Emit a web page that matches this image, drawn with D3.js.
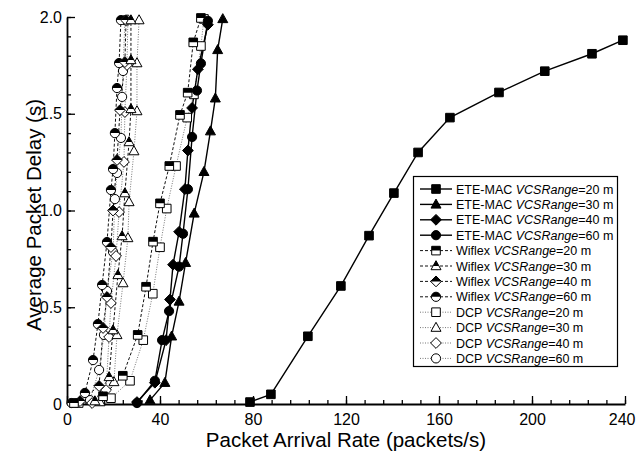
<!DOCTYPE html>
<html>
<head>
<meta charset="utf-8">
<script src="https://cdn.jsdelivr.net/npm/d3@7/dist/d3.min.js"></script>
<style>
  html, body { margin: 0; padding: 0; background: #fff; }
  svg { display: block; font-family: "Liberation Sans", Arial, sans-serif; }
</style>
</head>
<body>
<svg id="chart" width="636" height="452"></svg>
<script>
// Average packet delay vs. packet arrival rate, [rate (packets/s), delay (s)]
const eteMac20 = [[78.7,0.01],[87.7,0.05],[103.6,0.35],[117.8,0.61],[129.9,0.87],[140.6,1.09],[151,1.30],[164.7,1.48],[185.8,1.61],[205.5,1.72],[225.8,1.81],[239.1,1.88]];
const eteMac30 = [[35.7,0.02],[42.1,0.11],[45,0.35],[48.2,0.53],[51,0.73],[54.7,0.985],[58.9,1.20],[61.7,1.41],[63.8,1.58],[64.8,1.83],[67,1.99]];
const eteMac40 = [[30.1,0.01],[37.8,0.11],[42.6,0.33],[44.3,0.54],[45.6,0.72],[48.2,0.89],[50.7,1.11],[52,1.31],[53.8,1.53],[56.3,1.73],[60.6,1.96]];
const eteMac60 = [[30.1,0.005],[37.8,0.12],[40.9,0.33],[43.9,0.48],[48.2,0.71],[49.9,0.88],[52,1.11],[53.8,1.38],[55.9,1.62],[57.6,1.76],[60.6,1.98]];
const wiflex20 = [[3,0.005],[15.5,0.04],[24,0.146],[30.4,0.357],[34,0.606],[37,0.839],[40,1.037],[44,1.23],[48.6,1.494],[51.9,1.609],[54.3,1.869],[57.6,1.995]];
const wiflex30 = [[12,0.015],[18.1,0.14],[19.8,0.382],[21.9,0.667],[23.7,0.868],[24.9,1.09],[26.7,1.354],[27.5,1.525],[27.5,1.778],[27.5,1.984]];
const wiflex40 = [[5.6,0.015],[13.8,0.093],[15.5,0.393],[17.2,0.553],[18.9,0.811],[19.8,1.0],[21.5,1.261],[22.8,1.519],[24.9,1.767],[25.4,1.984]];
const wiflex60 = [[2,0.005],[7.7,0.057],[11.2,0.227],[13.3,0.413],[15.1,0.615],[17.2,0.837],[18.9,1.106],[19.8,1.214],[20.6,1.40],[21.5,1.633],[22.4,1.762],[23.2,1.984]];
const dcp20 = [[5,0.005],[18.9,0.03],[27.1,0.12],[32.8,0.33],[36.9,0.57],[40,0.81],[42.9,1.01],[46.9,1.23],[51.7,1.48],[54.6,1.60],[57.6,1.85],[58.9,1.99]];
const dcp30 = [[14.2,0.01],[20.2,0.114],[21.5,0.357],[24.1,0.625],[26.2,0.858],[26.7,1.044],[28.8,1.307],[30.1,1.514],[30.1,1.762],[31,1.984]];
const dcp40 = [[10.8,0.005],[16.8,0.072],[18.1,0.346],[18.9,0.522],[21.1,0.765],[22.4,0.992],[24.5,1.251],[24.9,1.509],[25.8,1.752],[26.2,1.984]];
const dcp60 = [[9.9,0.02],[13.8,0.176],[15.9,0.357],[17.2,0.584],[19.8,0.786],[20.6,1.059],[21.5,1.194],[23.2,1.375],[23.7,1.587],[24.1,1.721],[24.9,1.984]];

const xTicks = [0, 40, 80, 120, 160, 200, 240];
const yTicks = [0, 0.5, 1.0, 1.5, 2.0];
const xLabel = "Packet Arrival Rate (packets/s)";
const yLabel = "Average Packet Delay (s)";

// name parts, data, line style, marker shape, marker fill
const series = [
  {proto: "ETE-MAC", range: "20", data: eteMac20, style: "solid",  shape: "square",   fill: "full"},
  {proto: "ETE-MAC", range: "30", data: eteMac30, style: "solid",  shape: "triangle", fill: "full"},
  {proto: "ETE-MAC", range: "40", data: eteMac40, style: "solid",  shape: "diamond",  fill: "full"},
  {proto: "ETE-MAC", range: "60", data: eteMac60, style: "solid",  shape: "circle",   fill: "full"},
  {proto: "Wiflex",  range: "20", data: wiflex20, style: "dash",   shape: "square",   fill: "half"},
  {proto: "Wiflex",  range: "30", data: wiflex30, style: "dash",   shape: "triangle", fill: "half"},
  {proto: "Wiflex",  range: "40", data: wiflex40, style: "dash",   shape: "diamond",  fill: "half"},
  {proto: "Wiflex",  range: "60", data: wiflex60, style: "dash",   shape: "circle",   fill: "half"},
  {proto: "DCP",     range: "20", data: dcp20,    style: "dot",    shape: "square",   fill: "open"},
  {proto: "DCP",     range: "30", data: dcp30,    style: "dot",    shape: "triangle", fill: "open"},
  {proto: "DCP",     range: "40", data: dcp40,    style: "dot",    shape: "diamond",  fill: "open"},
  {proto: "DCP",     range: "60", data: dcp60,    style: "dot",    shape: "circle",   fill: "open"}
];

const svg = d3.select("#chart");
const x = d3.scaleLinear().domain([0, 240]).range([67, 625]);
const y = d3.scaleLinear().domain([0, 2]).range([404, 17]);

const lineStyles = {
  solid: {stroke: "#000", width: 1.4, dash: null},
  dash:  {stroke: "#111", width: 1.0, dash: "3,2"},
  dot:   {stroke: "#777", width: 1.0, dash: "1,1.5"}
};

// marker outlines centred at the origin
function shapePath(shape) {
  switch (shape) {
    case "square":   return "M-4.3,-4.3H4.3V4.3H-4.3Z";
    case "triangle": return "M0,-5.3L5,3.7L-5,3.7Z";
    case "diamond":  return "M0,-5.4L5.4,0L0,5.4L-5.4,0Z";
    case "circle":   return d3.arc()({innerRadius: 0, outerRadius: 4.6, startAngle: 0, endAngle: 2 * Math.PI});
  }
}

const defs = svg.append("defs");
defs.append("clipPath").attr("id", "topHalf")
  .append("rect").attr("x", -8).attr("y", -8).attr("width", 16).attr("height", 8);

function drawMarker(g, s) {
  const p = shapePath(s.shape);
  if (s.fill === "full") {
    g.append("path").attr("d", p).attr("fill", "#000").attr("stroke", "#000").attr("stroke-width", 1);
  } else {
    g.append("path").attr("d", p).attr("fill", "#fff").attr("stroke", "none");
    if (s.fill === "half") {
      g.append("path").attr("d", p).attr("fill", "#000").attr("clip-path", "url(#topHalf)");
    }
    g.append("path").attr("d", p).attr("fill", "none").attr("stroke", "#000").attr("stroke-width", 1);
  }
}

// axes: ticks point into the plot
const xMinor = d3.range(0, 241, 8);
const yMinor = d3.range(0, 2.001, 0.1);

svg.append("g").attr("transform", `translate(0,${y(0)})`)
  .call(d3.axisBottom(x).tickValues(xMinor).tickSizeInner(-4).tickSizeOuter(0).tickFormat(""))
  .call(g => g.select(".domain").remove())
  .call(g => g.selectAll("line").attr("stroke-width", 1.3));
svg.append("g").attr("transform", `translate(${x(0)},0)`)
  .call(d3.axisLeft(y).tickValues(yMinor).tickSizeInner(-4).tickSizeOuter(0).tickFormat(""))
  .call(g => g.select(".domain").remove())
  .call(g => g.selectAll("line").attr("stroke-width", 1.3));

const xAxis = svg.append("g").attr("transform", `translate(0,${y(0)})`)
  .call(d3.axisBottom(x).tickValues(xTicks).tickSizeInner(-8).tickSizeOuter(0).tickPadding(10).tickFormat(d3.format("d")));
const yAxis = svg.append("g").attr("transform", `translate(${x(0)},0)`)
  .call(d3.axisLeft(y).tickValues(yTicks).tickSizeInner(-8).tickSizeOuter(0).tickPadding(5)
    .tickFormat(d => d === 0 ? "0" : d.toFixed(1)));

[xAxis, yAxis].forEach(a => {
  a.select(".domain").attr("stroke-width", 1.8);
  a.selectAll("line").attr("stroke-width", 1.3);
  a.selectAll("text").attr("font-size", 16).attr("font-family", "Liberation Sans, Arial, sans-serif").attr("fill", "#000");
});
// keep the last rate label inside the right edge
xAxis.selectAll(".tick text").filter(d => d === 240).attr("text-anchor", "end").attr("dx", 10);

svg.append("text").attr("x", (x(0) + x(240)) / 2).attr("y", 447)
  .attr("text-anchor", "middle").attr("font-size", 20.5).text(xLabel);
svg.append("text").attr("transform", "translate(41,215) rotate(-90)")
  .attr("text-anchor", "middle").attr("font-size", 20.5).text(yLabel);

// series lines then markers
const line = d3.line().x(d => x(d[0])).y(d => y(d[1]));
series.slice().reverse().forEach(s => {
  const st = lineStyles[s.style];
  svg.append("path").datum(s.data).attr("d", line)
    .attr("fill", "none").attr("stroke", st.stroke).attr("stroke-width", st.width)
    .attr("stroke-dasharray", st.dash);
});
series.slice().reverse().forEach(s => {
  const g = svg.append("g");
  s.data.forEach(d => {
    drawMarker(g.append("g").attr("transform", `translate(${x(d[0])},${y(d[1])})`), s);
  });
});

// legend
const leg = svg.append("g");
leg.append("rect").attr("x", 413.5).attr("y", 176.5).attr("width", 204).attr("height", 190)
  .attr("fill", "#fff").attr("stroke", "#000").attr("stroke-width", 1.2);
series.forEach((s, i) => {
  const cy = 189 + i * 15.4;
  const st = lineStyles[s.style];
  leg.append("line").attr("x1", 420).attr("x2", 452).attr("y1", cy).attr("y2", cy)
    .attr("stroke", st.stroke).attr("stroke-width", st.width).attr("stroke-dasharray", st.dash);
  drawMarker(leg.append("g").attr("transform", `translate(436,${cy})`), s);
  const t = leg.append("text").attr("x", 456).attr("y", cy + 4.5).attr("font-size", 12.5);
  t.append("tspan").text(s.proto + " ");
  t.append("tspan").attr("font-style", "italic").text("VCSRange");
  t.append("tspan").text("=" + s.range + " m");
});
</script>
</body>
</html>
